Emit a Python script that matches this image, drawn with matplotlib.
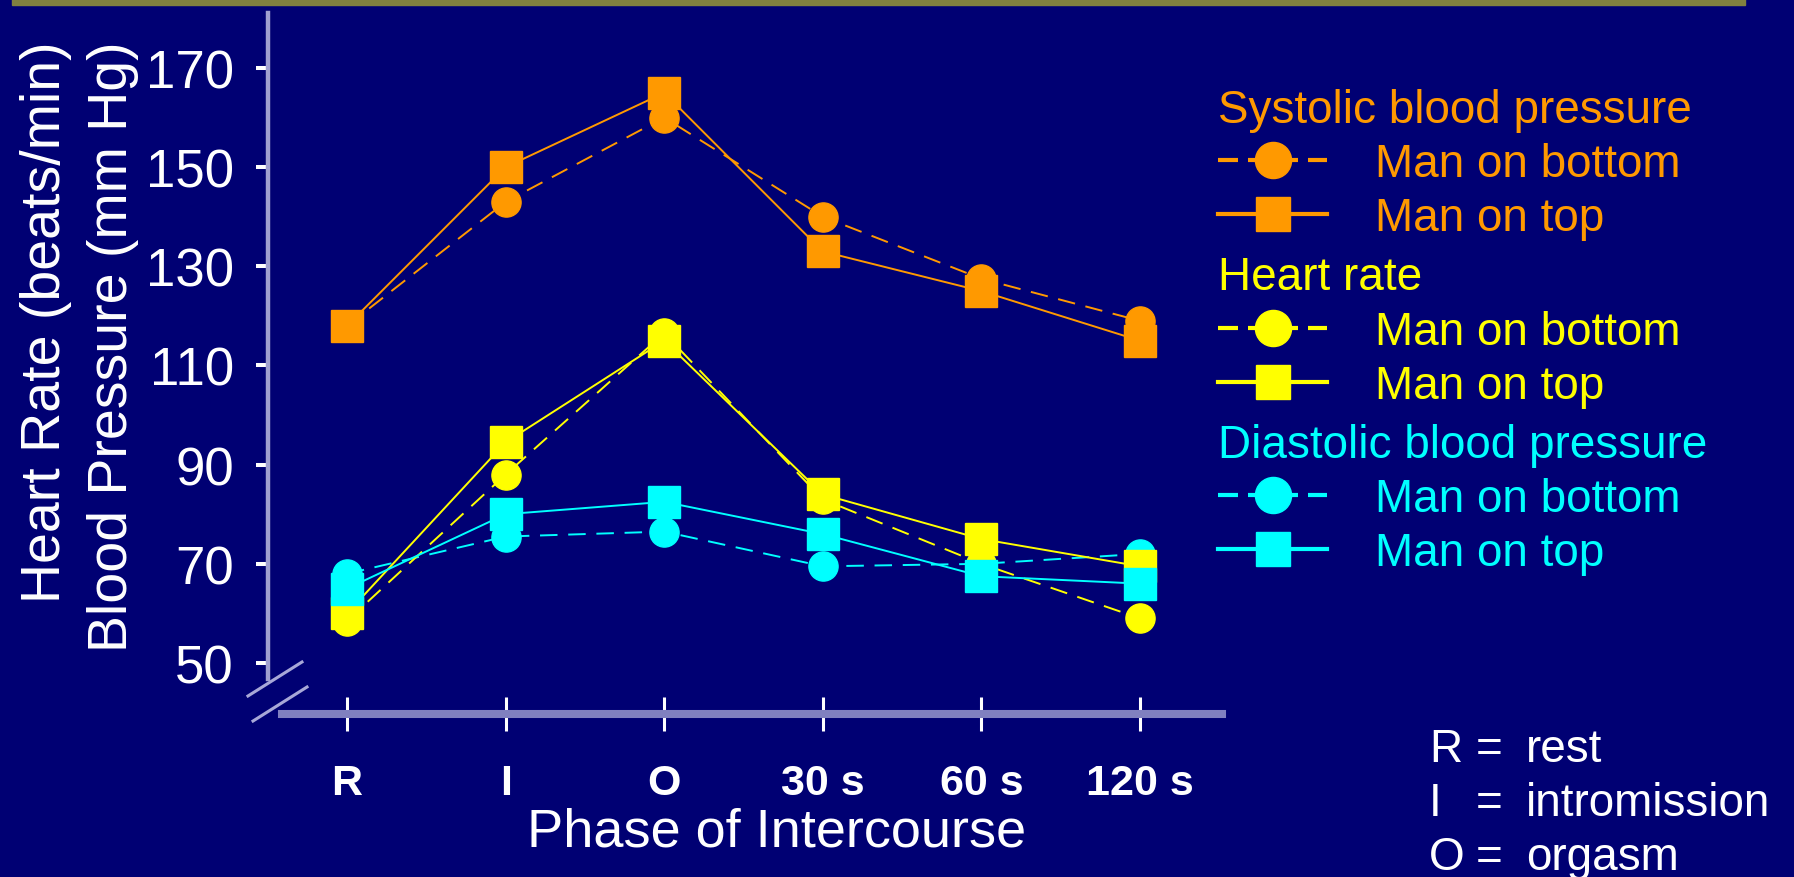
import matplotlib
matplotlib.use('Agg')
import matplotlib.pyplot as plt
from matplotlib.lines import Line2D
from matplotlib.patches import Rectangle

# values
phases = ['R', 'I', 'O', '30 s', '60 s', '120 s']
yTicks = [50, 70, 90, 110, 130, 150, 170]

systolicBottom = [118, 143, 160, 140, 127.5, 119]
systolicTop = [118, 150, 165, 133, 125, 115]
heartBottom = [58.5, 88, 116.5, 83, 70, 59]
heartTop = [60, 94.5, 115, 84, 75, 69.5]
diastolicBottom = [68, 75.5, 76.5, 69.5, 70, 72]
diastolicTop = [65, 80, 82.5, 76, 67.5, 66]

groupNames = ['Systolic blood pressure', 'Heart rate', 'Diastolic blood pressure']
positionNames = ['Man on bottom', 'Man on top']
keyLetters = ['R', 'I', 'O']
keyWords = ['rest', 'intromission', 'orgasm']

bg = '#000073'
orange = '#ff9900'
yellow = '#ffff00'
cyan = '#00ffff'
groupColors = [orange, yellow, cyan]

plt.rcParams['font.family'] = ['Liberation Sans', 'DejaVu Sans']

W, H = 1794.0, 878.0
fig = plt.figure(figsize=(W / 100, H / 100), dpi=100, facecolor=bg)

# olive strip along the top of the slide
fig.patches.append(Rectangle((12 / W, 1 - 6 / H), (1745 - 12) / W, 6 / H,
                             transform=fig.transFigure, color='#808040', zorder=0))

ax = fig.add_axes([268 / W, 1 - 680 / H, (1222 - 268) / W, (680 - 14) / H])
ax.set_facecolor(bg)

x = list(range(len(phases)))
dashed = (0, (9, 5.5))
lineW = 1.4
circleSize = 21
squareSize = 23.5

ax.plot(x, systolicBottom, color=orange, lw=lineW, ls=dashed, marker='o', ms=circleSize)
ax.plot(x, systolicTop, color=orange, lw=lineW, marker='s', ms=squareSize)
ax.plot(x, diastolicBottom, color=cyan, lw=lineW, ls=dashed, marker='o', ms=circleSize)
ax.plot(x, heartBottom, color=yellow, lw=lineW, ls=dashed, marker='o', ms=circleSize)
ax.plot(x, heartTop, color=yellow, lw=lineW, marker='s', ms=squareSize)
ax.plot(x, diastolicTop, color=cyan, lw=lineW, marker='s', ms=squareSize)

ax.set_xlim(-0.498, 5.517)
ax.set_ylim(46.77, 181.09)

# spines first: moving a spine resets the ticks
for side in ['top', 'right']:
    ax.spines[side].set_visible(False)
ax.spines['left'].set_color('#a0a0d0')
ax.spines['left'].set_linewidth(3.2)
ax.spines['bottom'].set_color('#8080c0')
ax.spines['bottom'].set_linewidth(5.8)
ax.spines['bottom'].set_position(('outward', 25.2))
ax.spines['bottom'].set_bounds(-0.41, 5.517)

ax.tick_params(axis='y', colors='white', direction='out', length=8.6, width=2.9, pad=16, labelsize=38)
ax.tick_params(axis='x', colors='white', direction='inout', length=24, width=2.2, pad=23, labelsize=31)

ax.set_yticks(yTicks)
ax.set_xticks(x, phases, fontweight='bold')

# axis break marks
for xs, ys in [((-0.021, 0.0356), (-0.0255, 0.0255)), ((-0.0157, 0.0409), (-0.0631, -0.012))]:
    ax.plot(xs, ys, transform=ax.transAxes, clip_on=False, color='#a8a8d8', lw=2.2)

ax.set_ylabel('Heart Rate (beats/min)\nBlood Pressure (mm Hg)', color='white', fontsize=40,
              linespacing=1.38, multialignment='right')
ax.yaxis.set_label_coords(-0.135, 0.5)
ax.set_xlabel('Phase of Intercourse', color='white', fontsize=39)
ax.xaxis.set_label_coords(0.5335, -0.192)

# legend, one block per measure
for i, (name, color) in enumerate(zip(groupNames, groupColors)):
    handles = [Line2D([], [], color=color, lw=3, ls=(0, (4.8, 2.4)), marker='o', ms=26),
               Line2D([], [], color=color, lw=3, marker='s', ms=24)]
    leg = fig.legend(handles, positionNames, loc='upper left',
                     bbox_to_anchor=(1218 / W, 1 - (89 + i * 167.5) / H),
                     frameon=False, fontsize=33, title=name, title_fontsize=33,
                     alignment='left', labelcolor=color, handlelength=2.38,
                     handletextpad=1.05, labelspacing=0.22, borderpad=0, borderaxespad=0)
    leg.get_title().set_color(color)

# key for the phase letters
for i, (letter, word) in enumerate(zip(keyLetters, keyWords)):
    yb = 1 - (762 + i * 54) / H
    fig.text(1429 / W, yb, letter, color='white', fontsize=33, va='baseline')
    fig.text(1476 / W, yb, '=', color='white', fontsize=33, va='baseline')
    fig.text(1526 / W, yb, word, color='white', fontsize=33, va='baseline')

fig.savefig('out.png', dpi=100, facecolor=bg)
